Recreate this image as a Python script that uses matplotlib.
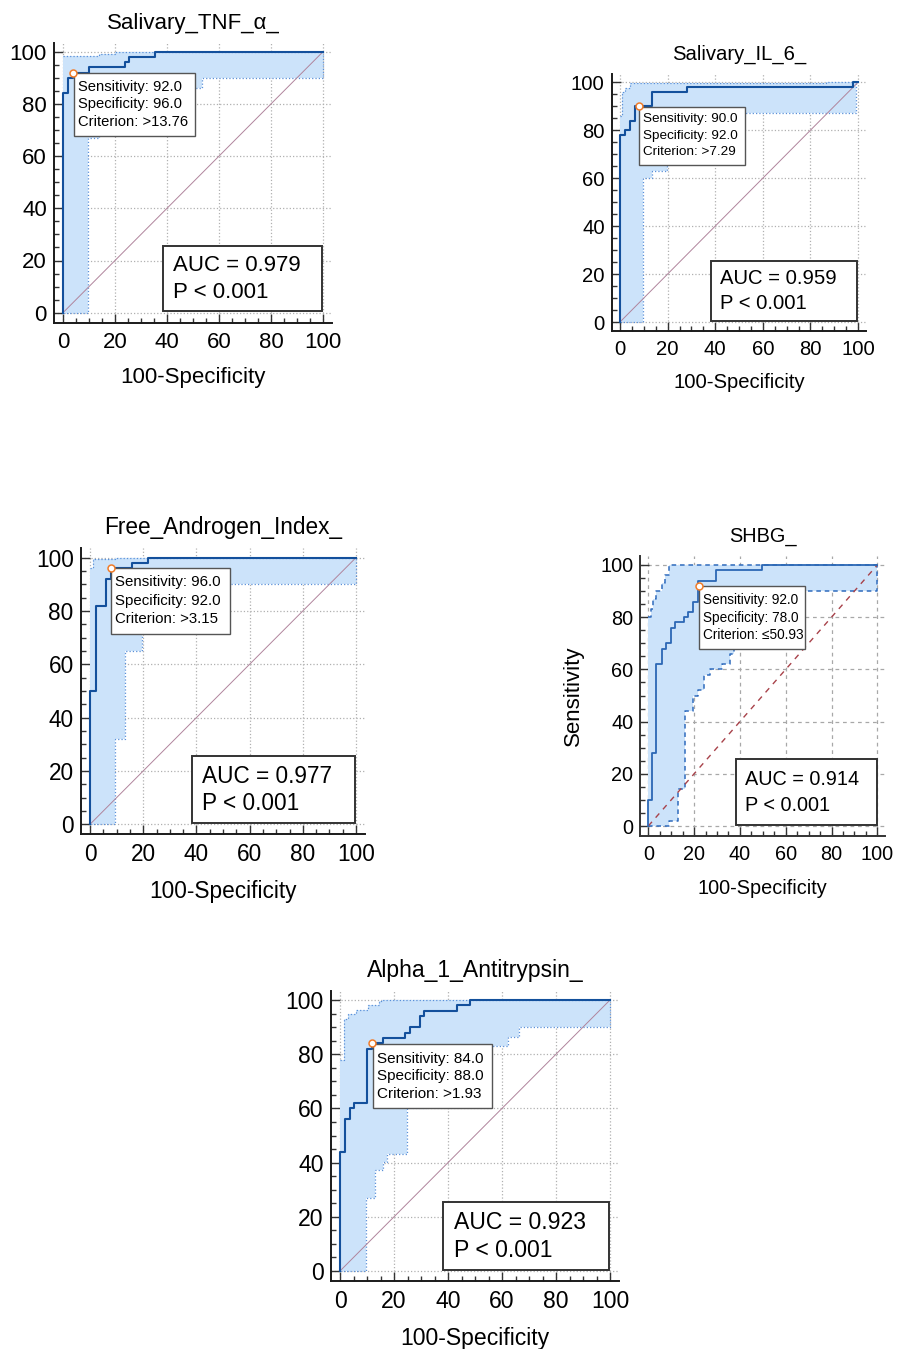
import numpy as np
import matplotlib
matplotlib.use("Agg")
from matplotlib import pyplot as plt
from matplotlib import font_manager as fm
from matplotlib.ticker import MultipleLocator
from matplotlib.patches import Rectangle

# ---- data ----
tnf_fpr = [0, 0, 2, 2, 4, 4, 10, 10, 24, 24, 25.5, 25.5, 35.5, 35.5, 100]
tnf_tpr = [0, 84, 84, 90, 90, 92, 92, 94, 94, 96, 96, 98, 98, 100, 100]
tnf_lo_x = [0, 9.6, 9.6, 14, 14, 20, 20, 28, 28, 38, 38, 46, 46, 53.4, 53.4, 100, 100]
tnf_lo_y = [0, 0, 67, 67, 70, 70, 74, 74, 78, 78, 82, 82, 86, 86, 90, 90, 100]
tnf_hi_x = [0, 14, 14, 20, 20, 100]
tnf_hi_y = [98.4, 98.4, 99.2, 99.2, 100, 100]

il6_fpr = [0, 0, 2.1, 2.1, 4.2, 4.2, 6.3, 6.3, 13.6, 13.6, 28, 28, 98, 98, 100]
il6_tpr = [0, 78, 78, 80, 80, 84, 84, 90, 90, 96, 96, 98, 98, 100, 100]
il6_lo_x = [0, 9.5, 9.5, 13.3, 13.3, 19.6, 19.6, 26, 26, 34, 34, 44, 44, 52, 52, 99.3, 99.3]
il6_lo_y = [0, 0, 60, 60, 63, 63, 66, 66, 72, 72, 78, 78, 84, 84, 87, 87, 100]
il6_hi_x = [0, 0.7, 0.7, 2.1, 2.1, 4.2, 4.2, 86.7, 86.7, 100]
il6_hi_y = [86, 86, 96, 96, 97.5, 97.5, 99.6, 99.6, 100, 100]

fai_fpr = [0, 0, 2.1, 2.1, 5.9, 5.9, 8, 8, 15.8, 15.8, 21.8, 21.8, 100]
fai_tpr = [0, 50, 50, 82, 82, 92, 92, 96, 96, 98, 98, 100, 100]
fai_lo_x = [0, 9.5, 9.5, 13.2, 13.2, 19.5, 19.5, 26, 26, 34, 34, 44, 44, 52, 52, 100, 100]
fai_lo_y = [0, 0, 32, 32, 65, 65, 72, 72, 78, 78, 82, 82, 86, 86, 90, 90, 100]
fai_hi_x = [0, 1.2, 1.2, 9.5, 9.5, 100]
fai_hi_y = [96, 96, 99.6, 99.6, 100, 100]

shbg_fpr = [0, 0, 1.5, 1.5, 3.3, 3.3, 5.8, 5.8, 7.7, 7.7, 9.8, 9.8, 11.6, 11.6,
            15.6, 15.6, 17.5, 17.5, 19.7, 19.7, 21.8, 21.8, 29.5, 29.5, 49.5, 49.5, 100]
shbg_tpr = [0, 10, 10, 28, 28, 62, 62, 68, 68, 70, 70, 76, 76, 78,
            78, 80, 80, 82, 82, 86, 86, 94, 94, 98, 98, 100, 100]
shbg_lo_x = [0, 9.2, 9.2, 13.1, 13.1, 16, 16, 19.7, 19.7, 21.8, 21.8, 24.5, 24.5, 27, 27,
             32, 32, 35.7, 35.7, 37.4, 37.4, 45, 45, 55, 55, 68.4, 68.4, 100, 100]
shbg_lo_y = [0, 0, 2, 2, 14, 14, 44, 44, 50, 50, 52, 52, 58, 58, 60,
             60, 62, 62, 66, 66, 68, 68, 76, 76, 84, 84, 90, 90, 100]
shbg_hi_x = [0, 1, 1, 2, 2, 3.5, 3.5, 5.8, 5.8, 7.3, 7.3, 9.2, 9.2, 100]
shbg_hi_y = [80, 80, 83, 83, 87, 87, 90, 90, 93, 93, 96, 96, 100, 100]

a1at_fpr = [0, 0, 1.9, 1.9, 3.7, 3.7, 5.3, 5.3, 9.9, 9.9, 12, 12, 15.8, 15.8, 24, 24, 26, 26,
            29.6, 29.6, 31, 31, 43.5, 43.5, 48, 48, 100]
a1at_tpr = [0, 44, 44, 56, 56, 60, 60, 62, 62, 82, 82, 84, 84, 86, 86, 88, 88, 90,
            90, 94, 94, 96, 96, 98, 98, 100, 100]
a1at_lo_x = [0, 9.6, 9.6, 13, 13, 16, 16, 17.3, 17.3, 24.9, 24.9, 32, 32, 42, 42,
             50, 50, 62.3, 62.3, 66.3, 66.3, 100, 100]
a1at_lo_y = [0, 0, 26.8, 26.8, 37.3, 37.3, 40.3, 40.3, 43, 43, 60, 60, 68, 68, 74,
             74, 83, 83, 86.5, 86.5, 90.2, 90.2, 100]
a1at_hi_x = [0, 1.5, 1.5, 3, 3, 6, 6, 10.5, 10.5, 14.5, 14.5, 15.5, 15.5, 100]
a1at_hi_y = [78, 78, 93, 93, 95, 95, 96.3, 96.3, 98, 98, 99.5, 99.5, 100, 100]

titles = ["Salivary_TNF_\u03b1_", "Salivary_IL_6_", "Free_Androgen_Index_", "SHBG_", "Alpha_1_Antitrypsin_"]
cut_points = [(4, 92), (8, 90), (8, 96), (22, 92), (12, 84)]
info_texts = [["Sensitivity: 92.0", "Specificity: 96.0", "Criterion: >13.76"],
              ["Sensitivity: 90.0", "Specificity: 92.0", "Criterion: >7.29"],
              ["Sensitivity: 96.0", "Specificity: 92.0", "Criterion: >3.15"],
              ["Sensitivity: 92.0", "Specificity: 78.0", "Criterion: \u226450.93"],
              ["Sensitivity: 84.0", "Specificity: 88.0", "Criterion: >1.93"]]
auc_values = ["0.979", "0.959", "0.977", "0.914", "0.923"]
p_texts = ["P < 0.001"] * 5

plt.rcParams['font.family'] = ['Liberation Sans', 'DejaVu Sans']

try:
    fm.findfont(fm.FontProperties(family='Liberation Sans Narrow'), fallback_to_default=False)
    narrow = 'Liberation Sans Narrow'
except ValueError:
    narrow = None

W, H = 897, 1349
XLIM = (-3.5, 103.5)
YLIM = (-3.8, 103.5)

fig = plt.figure(figsize=(W / 100, H / 100), dpi=100)


def place(x0, x100, y0, y100):
    sx = (x100 - x0) / 100
    sy = (y0 - y100) / 100
    lpx = x0 + XLIM[0] * sx
    rpx = x0 + XLIM[1] * sx
    bpx = y0 - YLIM[0] * sy
    tpx = y0 - YLIM[1] * sy
    return fig.add_axes([lpx / W, 1 - bpx / H, (rpx - lpx) / W, (bpx - tpx) / H])


def panel(ax, i, fpr, tpr, lo_x, lo_y, hi_x, hi_y, fs, afs, ann_box, shbg=False):
    fam = narrow if (shbg and narrow) else None
    ax.set_xlim(*XLIM)
    ax.set_ylim(*YLIM)
    for s in ["top", "right"]:
        ax.spines[s].set_visible(False)
    for s in ["left", "bottom"]:
        ax.spines[s].set_linewidth(1.4)
        ax.spines[s].set_color("#333333" if shbg else "#1a1a1a")
    ax.xaxis.set_major_locator(MultipleLocator(20))
    ax.yaxis.set_major_locator(MultipleLocator(20))
    ax.xaxis.set_minor_locator(MultipleLocator(5))
    ax.yaxis.set_minor_locator(MultipleLocator(5))
    ax.tick_params(which="both", direction="in", top=False, right=False, width=1.0,
                   color="#333333", labelsize=fs)
    ax.tick_params(which="major", length=6.5, pad=5)
    ax.tick_params(axis="x", which="major", pad=6.5)
    ax.tick_params(which="minor", length=3.5)
    if fam:
        for lab in ax.get_xticklabels() + ax.get_yticklabels():
            lab.set_family(fam)
    ax.set_axisbelow(True)
    if shbg:
        ax.grid(True, which="major", ls=(0, (3, 3)), color="#a8a8a8", lw=0.9)
    else:
        ax.grid(True, which="major", ls=":", color="#b0b0b0", lw=0.9)

    # confidence band
    px = list(hi_x) + list(lo_x)[::-1]
    py = list(hi_y) + list(lo_y)[::-1]
    ax.fill(px, py, color="#cce3fa", lw=0, zorder=1)
    if shbg:
        ax.plot(lo_x, lo_y, ls=(0, (3, 2.5)), color="#2f6bbd", lw=1.1, zorder=2)
        ax.plot(hi_x, hi_y, ls=(0, (3, 2.5)), color="#2f6bbd", lw=1.1, zorder=2)
        ax.plot([0, 100], [0, 100], ls=(0, (4, 4)), color="#a8424a", lw=1.0, zorder=2)
        ax.plot(fpr, tpr, color="#2c68b5", lw=1.3, zorder=3)
    else:
        ax.plot(lo_x, lo_y, ls=":", color="#5a90d8", lw=0.9, zorder=2)
        ax.plot(hi_x, hi_y, ls=":", color="#5a90d8", lw=0.9, zorder=2)
        ax.plot([0, 100], [0, 100], color="#b0849c", lw=0.7, zorder=2)
        ax.plot(fpr, tpr, color="#13509c", lw=1.5, zorder=3)

    cx, cy = cut_points[i]
    ax.plot([cx], [cy], marker="o", ms=5, mfc="white", mec="#f07c2a", mew=1.1, zorder=6)

    # info box with criterion
    bx, by, bw, bh = ann_box
    ax.add_patch(Rectangle((bx, by), bw, bh, fc="white", ec="#555555", lw=1.0, zorder=5))
    for k, t in enumerate(info_texts[i]):
        ax.text(bx + 1.6, by + bh * (0.78 - 0.28 * k), t, fontsize=afs, va="center",
                ha="left", zorder=6, family=fam)

    # AUC box
    ax.add_patch(Rectangle((38.3, 0.5), 61.4, 25.1, fc="white", ec="#333333", lw=1.4, zorder=5))
    ax.text(42.2, 18.0, "AUC = " + auc_values[i], fontsize=fs, va="center", ha="left",
            zorder=6, family=fam)
    ax.text(42.2, 7.7, p_texts[i], fontsize=fs, va="center", ha="left", zorder=6, family=fam)

    ax.set_title(titles[i], fontsize=fs, pad=10, family=fam)
    ax.set_xlabel("100-Specificity", fontsize=fs, labelpad=10, family=fam)


ax1 = place(63, 323, 312.7, 51.7)
panel(ax1, 0, tnf_fpr, tnf_tpr, tnf_lo_x, tnf_lo_y, tnf_hi_x, tnf_hi_y, 16, 10.6,
      (4.1, 67.7, 46.5, 24.3))

ax2 = place(620, 858, 322, 82.3)
panel(ax2, 1, il6_fpr, il6_tpr, il6_lo_x, il6_lo_y, il6_hi_x, il6_hi_y, 14.6, 9.7,
      (8.1, 65.6, 44.3, 24.3))

ax3 = place(90, 356, 824.3, 557.6)
panel(ax3, 2, fai_fpr, fai_tpr, fai_lo_x, fai_lo_y, fai_hi_x, fai_hi_y, 16.3, 10.8,
      (7.9, 71.4, 44.7, 24.8))

ax4 = place(648.3, 877.3, 826, 565)
panel(ax4, 3, shbg_fpr, shbg_tpr, shbg_lo_x, shbg_lo_y, shbg_hi_x, shbg_hi_y,
      16.5 if narrow else 14.3, 11 if narrow else 9.8, (22.1, 67.7, 46.3, 24.3), shbg=True)
ax4.xaxis.labelpad = 11
ax4.set_ylabel("Sensitivity", fontsize=16, labelpad=12, family=narrow)

ax5 = place(340, 610, 1271, 1000)
panel(ax5, 4, a1at_fpr, a1at_tpr, a1at_lo_x, a1at_lo_y, a1at_hi_x, a1at_hi_y, 16.6, 11,
      (12.1, 60, 44.3, 23.6))

plt.savefig("out.png", dpi=100)
